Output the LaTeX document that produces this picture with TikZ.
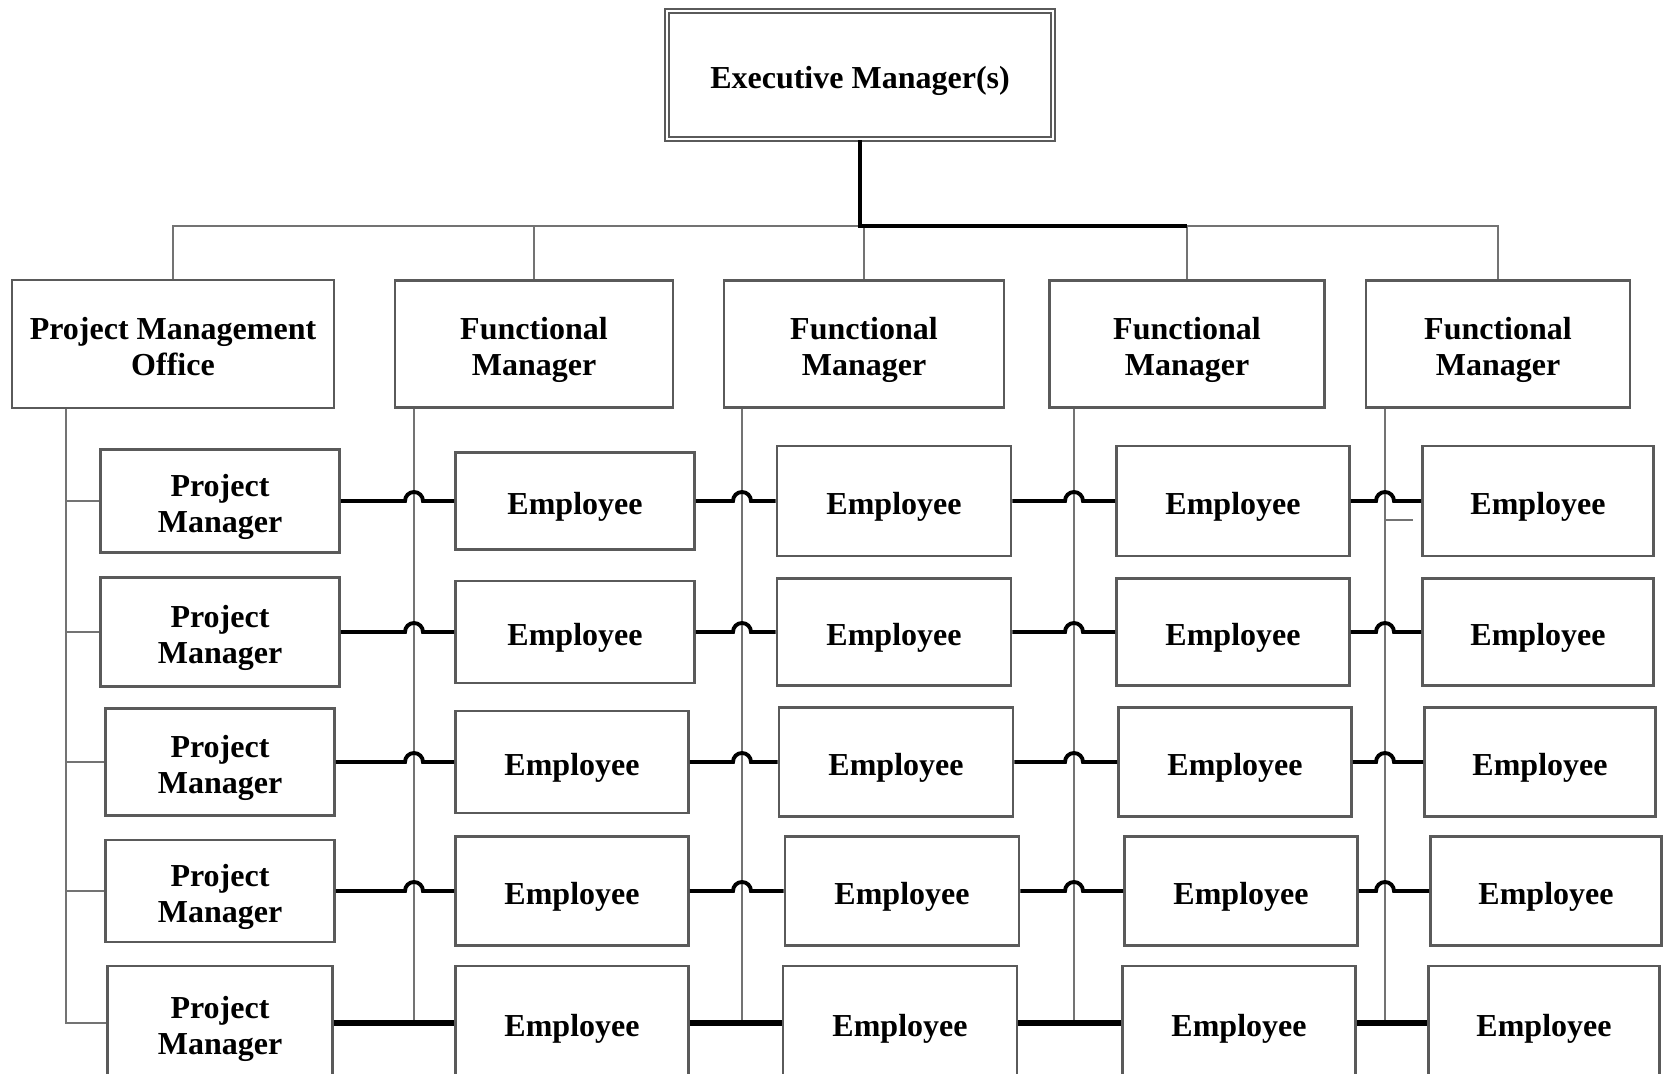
\documentclass[tikz,border=0pt]{standalone}
\usepackage{fontspec}
\setmainfont{Liberation Serif}
\usetikzlibrary{positioning,calc}

\definecolor{boxgray}{RGB}{90,90,90}
\definecolor{linegray}{RGB}{115,115,115}
\tikzset{
  orgbox/.style={draw=boxgray, line width=0.7pt, fill=white, align=center, inner sep=0pt,
    font=\fontsize{9.1}{10.2}\selectfont\bfseries, text height=9.8pt, text depth=2pt},
  twoline/.style={text height=20pt, text depth=2pt},
  gline/.style={draw=linegray, line width=0.6pt},
  bline/.style={draw=black, line width=1.1pt},
}

\begin{document}
\begin{tikzpicture}[x=0.01cm, y=-0.01cm]
    \useasboundingbox (0,0) rectangle (1663,1074);

    % top
    \node[orgbox, double, double distance=0.5pt, line width=0.6pt,
      minimum width=3.86cm, minimum height=1.28cm] (exec) at (860,75) {Executive Manager(s)};

    % second level
    \node[orgbox, twoline, minimum width=3.22cm, minimum height=1.28cm] (pmo) at (173,344) {Project Management\\Office};
    \node[orgbox, twoline, minimum width=2.78cm, minimum height=1.27cm] (fm1) at (534,344) {Functional\\Manager};
    \node[orgbox, twoline, minimum width=2.80cm, minimum height=1.27cm] (fm2) at (864,344) {Functional\\Manager};
    \node[orgbox, twoline, minimum width=2.75cm, minimum height=1.27cm] (fm3) at (1187,344) {Functional\\Manager};
    \node[orgbox, twoline, minimum width=2.64cm, minimum height=1.27cm] (fm4) at (1498,344) {Functional\\Manager};

    % bus
    \coordinate (busy) at (0,226);
    \draw[gline] (pmo.north) -- (pmo.north |- busy) -- (exec.south |- busy);
    \draw[gline] (fm1.north |- busy) -- (fm1.north);
    \draw[gline] (fm2.north |- busy) -- (fm2.north);
    \draw[gline] (fm3.north |- busy) -- (fm4.north |- busy) -- (fm4.north);
    \draw[gline] (fm3.north |- busy) -- (fm3.north);
    \draw[bline, line width=0.9pt] (exec.south) -- (exec.south |- busy) -- (fm3.north |- busy);

    % project managers
    \foreach \r/\y/\w/\h in {1/501/2.39/1.03, 2/632/2.39/1.09, 3/762/2.29/1.07, 4/891/2.29/1.02, 5/1023/2.25/1.14}
      \node[orgbox, twoline, minimum width=\w cm, minimum height=\h cm] (pm\r) at (220,\y) {Project\\Manager};

    % employees
    \foreach \r/\y/\ha/\hb/\ca/\wa/\dx in {1/501/0.97/1.10/575/2.39/0, 2/632/1.02/1.07/575/2.39/0,
        3/762/1.02/1.09/572/2.33/2, 4/891/1.09/1.09/572/2.33/8, 5/1023/1.14/1.14/572/2.33/6} {
      \node[orgbox, minimum width=\wa cm, minimum height=\ha cm] (e\r1) at (\ca,\y) {Employee};
      \node[orgbox, minimum width=2.34cm, minimum height=\hb cm] (e\r2) at (894+\dx,\y) {Employee};
      \node[orgbox, minimum width=2.33cm, minimum height=\hb cm] (e\r3) at (1233+\dx,\y) {Employee};
      \node[orgbox, minimum width=2.31cm, minimum height=\hb cm] (e\r4) at (1538+\dx,\y) {Employee};
    }

    % vertical lines
    \coordinate (v0) at (66,0);
    \coordinate (v1) at (414,0);
    \coordinate (v2) at (742,0);
    \coordinate (v3) at (1074,0);
    \coordinate (v4) at (1385,0);
    \draw[gline] (pmo.south -| v0) -- (v0 |- pm5.west) -- (pm5.west);
    \foreach \r in {1,...,4}
      \draw[gline] (v0 |- pm\r.west) -- (pm\r.west);
    \draw[gline] (fm1.south -| v1) -- (v1 |- e51.west);
    \draw[gline] (fm2.south -| v2) -- (v2 |- e51.west);
    \draw[gline] (fm3.south -| v3) -- (v3 |- e51.west);
    \draw[gline] (fm4.south -| v4) -- (v4 |- e51.west);
    \draw[gline] ($(v4 |- pm1.west)+(0,19)$) -- ++(28,0);

    % horizontal links with hops
    \foreach \r in {1,...,4} {
      \draw[bline] (pm\r.east) -- ($(v1 |- pm\r.east)+(-9,0)$) arc[start angle=180, end angle=0, radius=0.09cm] -- (e\r1.west);
      \draw[bline] (e\r1.east) -- ($(v2 |- pm\r.east)+(-9,0)$) arc[start angle=180, end angle=0, radius=0.09cm] -- (e\r2.west);
      \draw[bline] (e\r2.east) -- ($(v3 |- pm\r.east)+(-9,0)$) arc[start angle=180, end angle=0, radius=0.09cm] -- (e\r3.west);
      \draw[bline] (e\r3.east) -- ($(v4 |- pm\r.east)+(-9,0)$) arc[start angle=180, end angle=0, radius=0.09cm] -- (e\r4.west);
    }
    \draw[bline, line width=1.6pt] (pm5.east) -- (e51.west) (e51.east) -- (e52.west)
      (e52.east) -- (e53.west) (e53.east) -- (e54.west);
\end{tikzpicture}
\end{document}
